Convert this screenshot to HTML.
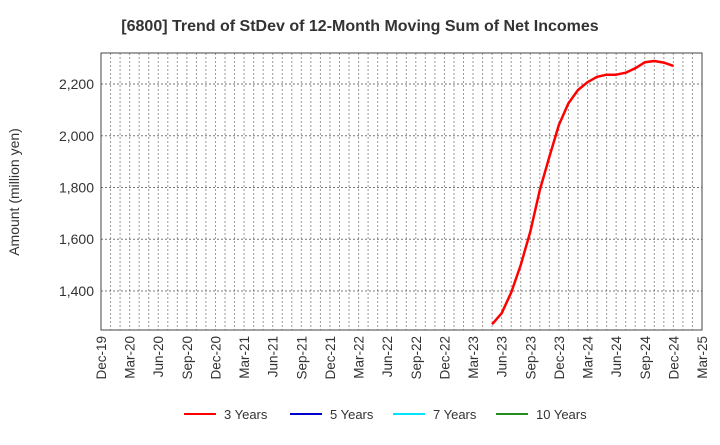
<!DOCTYPE html>
<html><head><meta charset="utf-8"><style>
body{margin:0;background:#fff;font-family:"Liberation Sans",Arial,sans-serif;}
svg text{font-family:"Liberation Sans",Arial,sans-serif;}
</style></head><body>
<svg id="chart" width="720" height="440" xmlns="http://www.w3.org/2000/svg">
<text x="360" y="31" text-anchor="middle" font-size="16" font-weight="bold" fill="#333">[6800]  Trend of StDev of 12-Month Moving Sum of Net Incomes</text>
<text transform="translate(19,192) rotate(-90)" text-anchor="middle" font-size="14" fill="#333">Amount (million yen)</text>
<g id="grid"></g>
<g id="axes"></g>
<g id="series"></g>
<g id="legend"></g>
</svg>
<script>
const xLabels=["Dec-19","Mar-20","Jun-20","Sep-20","Dec-20","Mar-21","Jun-21","Sep-21","Dec-21","Mar-22","Jun-22","Sep-22","Dec-22","Mar-23","Jun-23","Sep-23","Dec-23","Mar-24","Jun-24","Sep-24","Dec-24","Mar-25"];
const yTicks=[1400,1600,1800,2000,2200];
const startMonth3y=41;
const values3y=[1271,1314,1394,1500,1629,1790,1919,2042,2125,2177,2207,2228,2236,2236,2244,2261,2284,2289,2283,2270];
const legendNames=["3 Years","5 Years","7 Years","10 Years"];
const legendColors=["#ff0000","#0000cc","#00e5ff","#228b22"];
const L=101,R=702,T=53,B=330,yMin=1249,yMax=2320,nMonths=63;
const X=m=>L+(R-L)*m/nMonths;
const Y=v=>B-(B-T)*(v-yMin)/(yMax-yMin);
const ns="http://www.w3.org/2000/svg";
function mk(tag,attrs,parent){const e=document.createElementNS(ns,tag);for(const k in attrs)e.setAttribute(k,attrs[k]);parent.appendChild(e);return e;}
const grid=document.getElementById('grid'),axes=document.getElementById('axes'),series=document.getElementById('series'),legend=document.getElementById('legend');
for(let m=1;m<nMonths;m++){const l=mk('line',{x1:X(m),x2:X(m),y1:T,y2:B,stroke:'#999','stroke-dasharray':'2,2','stroke-width':1},grid);

}
yTicks.forEach(v=>{const l=mk('line',{x1:L,x2:R,y1:Y(v),y2:Y(v),stroke:'#777','stroke-dasharray':'2,2','stroke-width':1},grid);


const t=mk('text',{x:L-7,y:Y(v)+5,'text-anchor':'end','font-size':14,fill:'#333'},axes);t.textContent=v.toLocaleString('en-US');

});
const frame=mk('rect',{x:L,y:T,width:R-L,height:B-T,fill:'none',stroke:'#444','stroke-width':1},axes);


xLabels.forEach((s,i)=>{const x=X(i*3);const t=mk('text',{transform:`translate(${x+5},${B+6}) rotate(-90)`,'text-anchor':'end','font-size':13.5,fill:'#333'},axes);t.textContent=s;

});
const pts=values3y.map((v,i)=>X(startMonth3y+i).toFixed(1)+','+Y(v).toFixed(1)).join(' ');
const pl=mk('polyline',{points:pts,fill:'none',stroke:'#ff0000','stroke-width':2.5,'stroke-linejoin':'round'},series);


const lx=[184,290,393,496];
legendNames.forEach((n,i)=>{const g=mk('g',{},legend);


mk('line',{x1:lx[i],x2:lx[i]+32,y1:414,y2:414,stroke:legendColors[i],'stroke-width':2},g);
const t=mk('text',{x:lx[i]+40,y:419,'font-size':13,fill:'#333'},g);t.textContent=n;});
</script>
</body></html>
